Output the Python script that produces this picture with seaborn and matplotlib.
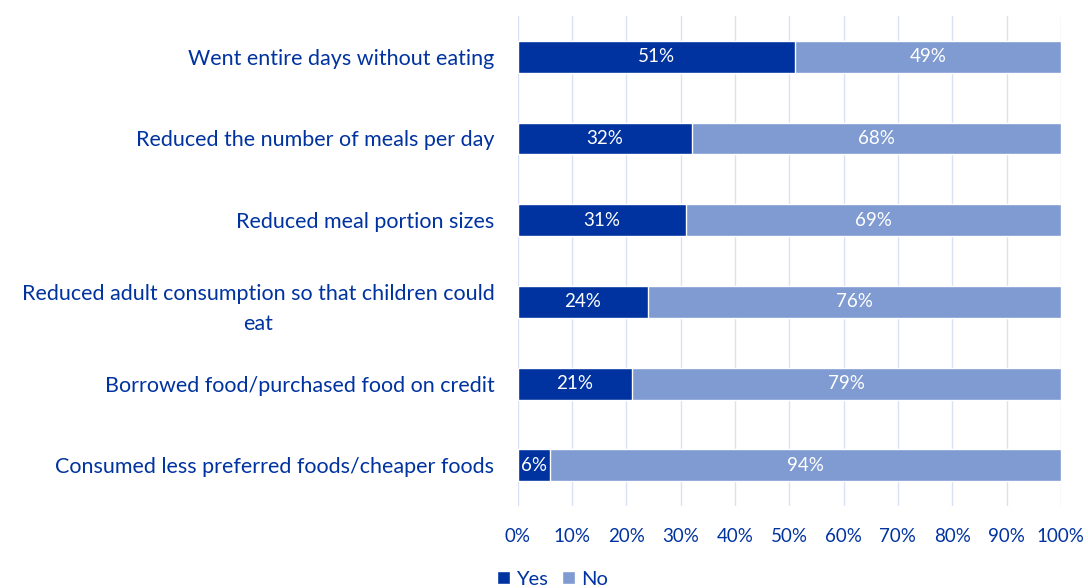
import matplotlib
matplotlib.use("Agg")
import matplotlib.pyplot as plt
import seaborn as sns
import pandas as pd

categories = [
    "Went entire days without eating",
    "Reduced the number of meals per day",
    "Reduced meal portion sizes",
    "Reduced adult consumption so that children could\neat",
    "Borrowed food/purchased food on credit",
    "Consumed less preferred foods/cheaper foods",
]
yes_pct = [51, 32, 31, 24, 21, 6]
no_pct = [49, 68, 69, 76, 79, 94]
x_ticks = [0, 10, 20, 30, 40, 50, 60, 70, 80, 90, 100]

DARK = "#0033A0"
LIGHT = "#7F9BD1"
TEXT = "#0033A0"
GRID = "#D9E2F5"

sns.set_theme(style="white")
plt.rcParams["font.family"] = ["Lato", "DejaVu Sans"]

df = pd.DataFrame({"cat": categories, "Yes": yes_pct, "No": no_pct})
df["total"] = df["Yes"] + df["No"]

fig = plt.figure(figsize=(10.88, 5.88), dpi=100)
ax = fig.add_axes([0.476, 0.139, 0.499, 0.834])

sns.barplot(data=df, y="cat", x="total", color=LIGHT, orient="h",
            width=0.39, ax=ax, label="No", saturation=1, zorder=2)
sns.barplot(data=df, y="cat", x="Yes", color=DARK, orient="h",
            width=0.39, ax=ax, label="Yes", saturation=1, zorder=3)

for i, (y, n) in enumerate(zip(yes_pct, no_pct)):
    ax.text(y / 2, i, f"{y}%", ha="center", va="center", color="white",
            fontsize=13.5, zorder=4)
    ax.text(y + n / 2, i, f"{n}%", ha="center", va="center", color="white",
            fontsize=13.5, zorder=4)

ax.set_xlim(0, 100)
ax.set_xticks(x_ticks)
ax.set_xticklabels([f"{t}%" for t in x_ticks])
ax.xaxis.grid(True, color=GRID, linewidth=1, zorder=0)
ax.set_axisbelow(True)
ax.set_xlabel("")
ax.set_ylabel("")
for s in ax.spines.values():
    s.set_visible(False)
ax.tick_params(axis="x", colors=TEXT, labelsize=13.5, length=0, pad=16)
ax.tick_params(axis="y", colors=TEXT, labelsize=15.5, length=0, pad=17)
for lab in ax.get_yticklabels():
    lab.set_multialignment("center")
    lab.set_linespacing(1.6)

handles, labels = ax.get_legend_handles_labels()
order = [labels.index("Yes"), labels.index("No")]
ax.legend([handles[k] for k in order], [labels[k] for k in order],
          loc="lower left", bbox_to_anchor=(0.44, -0.03),
          bbox_transform=fig.transFigure, ncol=2, frameon=False,
          handlelength=0.65, handleheight=0.65, handletextpad=0.3,
          columnspacing=0.7, fontsize=14.5, labelcolor=TEXT)

fig.savefig("out.png", dpi=100)
